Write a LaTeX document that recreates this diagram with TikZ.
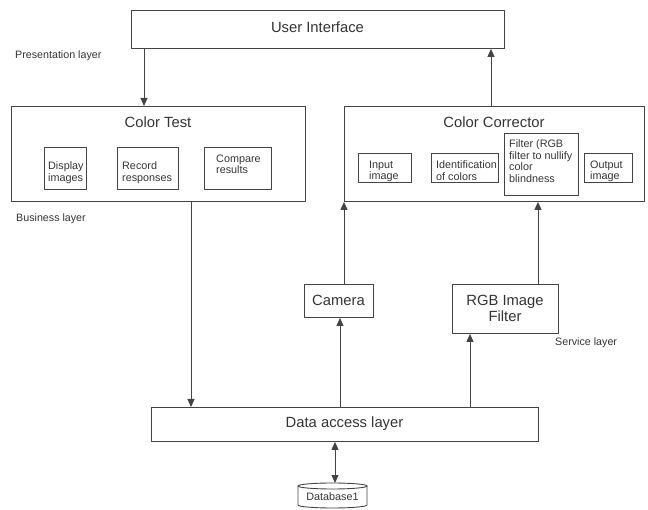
\documentclass[tikz,border=0pt]{standalone}
\usepackage{fontspec}
\setmainfont{Liberation Sans}
\usetikzlibrary{arrows.meta}
\definecolor{ln}{HTML}{444444}
\definecolor{tx}{HTML}{333333}
\tikzset{
  box/.style={draw=ln, line width=0.9pt, inner sep=0pt, anchor=north west},
  big/.style={text=tx, font=\fontsize{14.8}{16}\selectfont, inner sep=0pt},
  small/.style={text=tx, font=\fontsize{10.8}{11.6}\selectfont, inner sep=0pt, align=left, anchor=north west},
  lbl/.style={text=tx, font=\fontsize{10.7}{12}\selectfont, inner sep=0pt, anchor=west},
  arr/.style={draw=ln, line width=0.9pt, -{Triangle[width=7pt,length=8pt]}},
  plain/.style={draw=ln, line width=0.9pt},
}
\begin{document}
\begin{tikzpicture}[x=1pt,y=-1pt]
\useasboundingbox (0,0) rectangle (648,510);
% top
\node[box, minimum width=373pt, minimum height=38pt] (ui) at (131,10) {};
\node[big] (uit) at (317.5,27) {User Interface};
\node[lbl] (pl) at (15,56) {Presentation layer};
% color test
\node[box, minimum width=294pt, minimum height=95pt] (ct) at (11,106) {};
\node[big] (ctt) at (158,122) {Color Test};
\node[box, minimum width=42pt, minimum height=42pt] (di) at (44,147) {};
\node[small] (dit) at (48,161.5) {Display\\images};
\node[box, minimum width=61pt, minimum height=42pt] (rr) at (117,147) {};
\node[small] (rrt) at (122,161.5) {Record\\responses};
\node[box, minimum width=67pt, minimum height=42pt] (cr) at (204,147) {};
\node[small] (crt) at (216,154.5) {Compare\\results};
\node[lbl] (bl) at (16,219) {Business layer};
% color corrector
\node[box, minimum width=300pt, minimum height=95pt] (cc) at (344,106) {};
\node[big] (cct) at (494,122) {Color Corrector};
\node[box, minimum width=53pt, minimum height=29pt] (ii) at (358,153) {};
\node[small] (iit) at (369,160.5) {Input\\image};
\node[box, minimum width=67pt, minimum height=29pt] (ic) at (431,153) {};
\node[small] (ict) at (436,160.5) {Identification\\of colors};
\node[box, minimum width=74pt, minimum height=62pt] (fi) at (504,133) {};
\node[small] (fit) at (509,139.5) {Filter (RGB\\filter to nullify\\color\\blindness};
\node[box, minimum width=48pt, minimum height=29pt] (oi) at (584,153) {};
\node[small] (oit) at (590,160.5) {Output\\image};
% service
\node[box, minimum width=69pt, minimum height=33pt] (cam) at (304,284) {};
\node[big] (camt) at (338.5,300.5) {Camera};
\node[box, minimum width=106pt, minimum height=49pt] (rgb) at (452,284) {};
\node[big, align=center, font=\fontsize{14.8}{15.5}\selectfont] (rgbt) at (505,308.5) {RGB Image\\Filter};
\node[lbl] (sl) at (555,343) {Service layer};
% data access
\node[box, minimum width=387pt, minimum height=34pt] (da) at (151,407) {};
\node[big] (dat) at (344.5,424) {Data access layer};
% database
\node[inner sep=0pt, minimum width=69pt, minimum height=22pt, anchor=north west] (db) at (298,483) {};
\draw[ln, line width=0.9pt, fill=white] (298,486) -- (298,505) arc[start angle=180, end angle=0, x radius=34.5, y radius=3] -- (367,486);
\draw[ln, line width=0.9pt] (332.5,486) ellipse [x radius=34.5, y radius=3];
\node[text=tx, font=\fontsize{10.8}{12}\selectfont, inner sep=0pt] (dbt) at (332.5,496.5) {Database1};
% x positions
\coordinate (x144) at (144,0);
\coordinate (x491) at (491,0);
\coordinate (x191) at (191,0);
\coordinate (x344) at (344,0);
\coordinate (x340) at (340,0);
\coordinate (x538) at (538,0);
\coordinate (x470) at (470,0);
\coordinate (x335) at (335,0);
% connectors
\draw[arr] (ui.south -| x144) -- (ct.north -| x144);
\draw[arr] (cc.north -| x491) -- (ui.south -| x491);
\draw[arr] (ct.south -| x191) -- (da.north -| x191);
\draw[arr] (cam.north -| x344) -- (cc.south -| x344);
\draw[arr] (rgb.north -| x538) -- (cc.south -| x538);
\draw[arr] (da.north -| x340) -- (cam.south -| x340);
\draw[arr] (da.north -| x470) -- (rgb.south -| x470);
\draw[arr, {Triangle[width=7pt,length=8pt]}-{Triangle[width=7pt,length=8pt]}] (da.south -| x335) -- (db.north -| x335);
\end{tikzpicture}
\end{document}
